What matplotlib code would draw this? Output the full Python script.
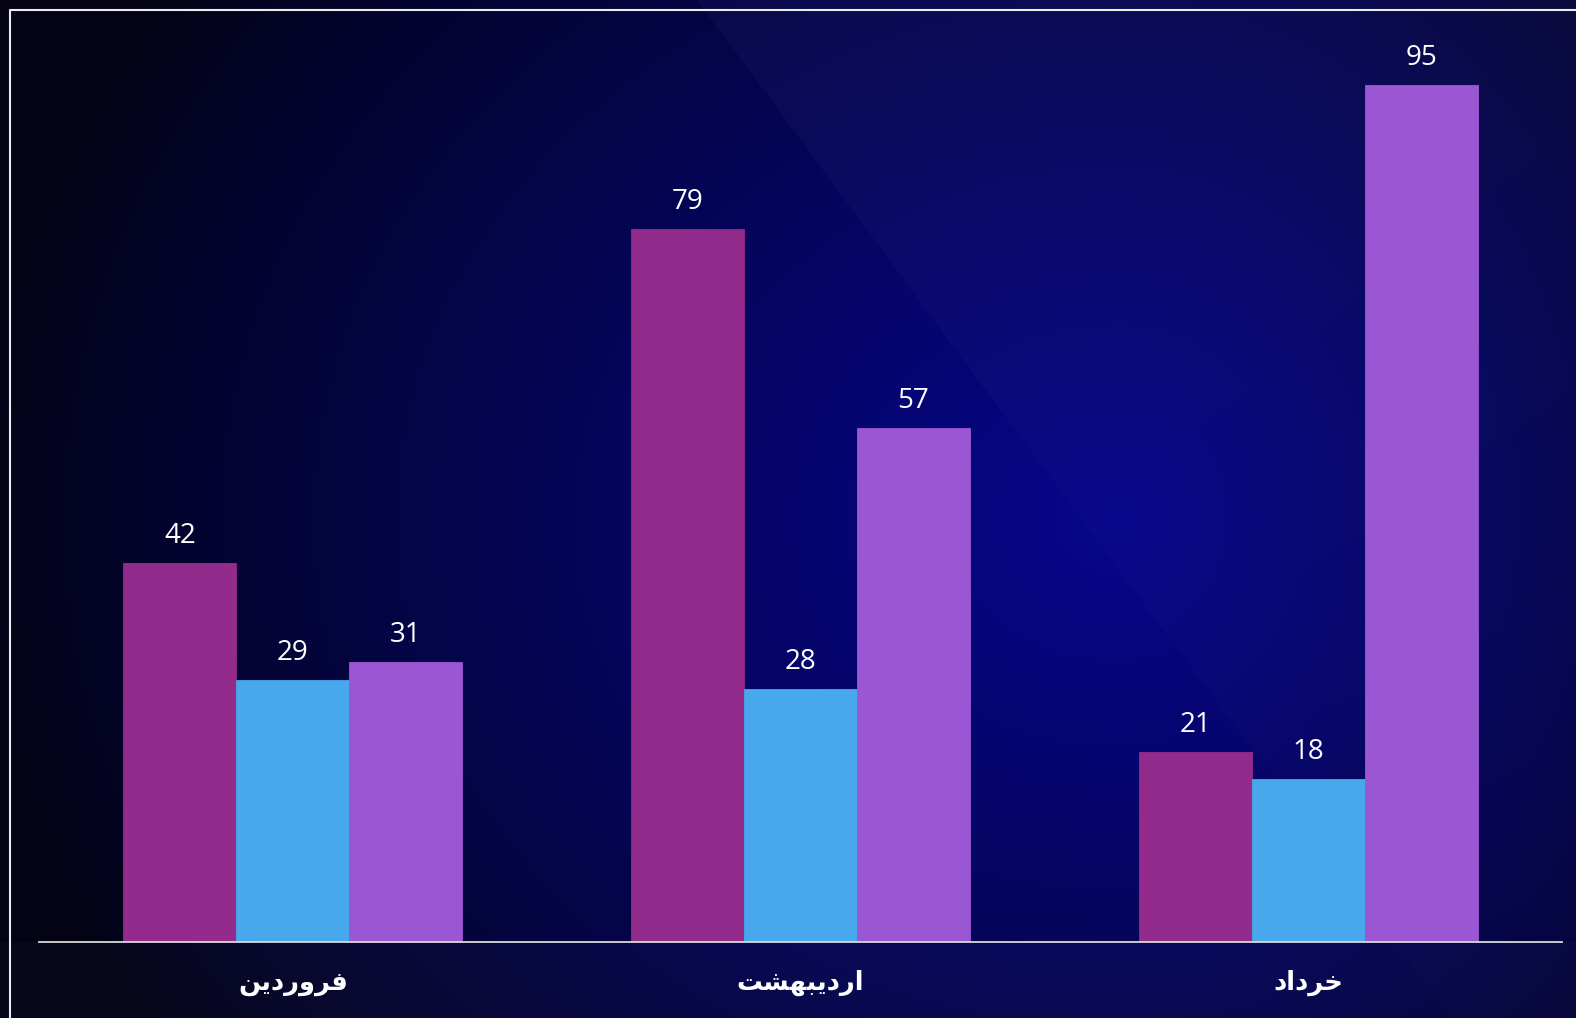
import matplotlib.pyplot as plt
import numpy as np

# data
months = ['فروردین', 'اردیبهشت', 'خرداد']
series_a = [42, 79, 21]
series_b = [29, 28, 18]
series_c = [31, 57, 95]
colors = ['#922B8C', '#47A8EC', '#9B57D3']

# simple persian shaping (matplotlib has no complex text layout)
FORMS = {
    'ف': ('\uFED1', '\uFED2', '\uFED3', '\uFED4'),
    'ر': ('\uFEAD', '\uFEAE', None, None),
    'و': ('\uFEED', '\uFEEE', None, None),
    'د': ('\uFEA9', '\uFEAA', None, None),
    'ی': ('\uFBFC', '\uFBFD', '\uFBFE', '\uFBFF'),
    'ن': ('\uFEE5', '\uFEE6', '\uFEE7', '\uFEE8'),
    'ا': ('\uFE8D', '\uFE8E', None, None),
    'ب': ('\uFE8F', '\uFE90', '\uFE91', '\uFE92'),
    'ه': ('\uFEE9', '\uFEEA', '\uFEEB', '\uFEEC'),
    'ش': ('\uFEB5', '\uFEB6', '\uFEB7', '\uFEB8'),
    'ت': ('\uFE95', '\uFE96', '\uFE97', '\uFE98'),
    'خ': ('\uFEA5', '\uFEA6', '\uFEA7', '\uFEA8'),
}


def shape(word):
    out = []
    n = len(word)
    for i, c in enumerate(word):
        f = FORMS[c]
        prev = i > 0 and FORMS[word[i - 1]][2] is not None
        nxt = i < n - 1 and f[2] is not None
        if prev and nxt:
            out.append(f[3])
        elif prev:
            out.append(f[1])
        elif nxt:
            out.append(f[2])
        else:
            out.append(f[0])
    return ''.join(reversed(out))


W, H = 1576, 1018
fig = plt.figure(figsize=(W / 100, H / 100), dpi=100)

# background
bg = fig.add_axes([0, 0, 1, 1])
yy, xx = np.mgrid[0:H, 0:W].astype(float)
cx, cy = 1120, 520
sx = np.where(xx < cx, 1150.0, 850.0)
d = np.sqrt(((xx - cx) / sx) ** 2 + ((yy - cy) / 950.0) ** 2)
t = np.clip(1 - d, 0, 1) ** 0.9
dark = np.array([0.012, 0.012, 0.085])
glow = np.array([0.025, 0.025, 0.55])
img = dark + (glow - dark) * t[..., None]
# lighter diagonal panel top right
mask = (xx > 697 + 0.74 * yy).astype(float)
a = mask * np.clip(0.075 * (1 - yy / 1200), 0, 1)
img = img * (1 - a[..., None]) + np.array([0.35, 0.35, 0.6]) * a[..., None]
# lighter band under the axis
band = (yy > 941).astype(float) * 0.045
img = img * (1 - band[..., None]) + np.array([0.4, 0.4, 0.5]) * band[..., None]
bg.imshow(np.clip(img, 0, 1), extent=[0, W, H, 0], aspect='auto', interpolation='bilinear')
bg.set_xlim(0, W)
bg.set_ylim(H, 0)
bg.axis('off')

# outer frame
fig.add_artist(plt.Line2D([10 / W, 10 / W, 1.0], [0.0, 1 - 10 / H, 1 - 10 / H],
                          color='#ececec', lw=1.5, transform=fig.transFigure))

ax = fig.add_axes([39 / W, 76.5 / H, 1523 / W, 901.4 / H])
ax.set_facecolor('none')
x = np.arange(len(months))
w = 0.2225
for k, vals in enumerate([series_a, series_b, series_c]):
    bars = ax.bar(x + (k - 1) * w, vals, w, color=colors[k], edgecolor=colors[k], lw=0.6, zorder=2)
    for b, v in zip(bars, vals):
        ax.annotate(str(v), (b.get_x() + b.get_width() / 2, v), xytext=(0, 14.5),
                    textcoords='offset points', ha='center', va='baseline',
                    color='white', fontsize=20, family=['Open Sans', 'DejaVu Sans'])

ax.set_xlim(-0.5, 2.5)
ax.set_ylim(0, 100)
for s in ['top', 'right', 'left']:
    ax.spines[s].set_visible(False)
ax.spines['bottom'].set_color('#d9d9d9')
ax.spines['bottom'].set_linewidth(1.3)
ax.set_yticks([])
ax.set_xticks([])
for i, m in enumerate(months):
    ax.text(i, -0.046, shape(m), transform=ax.get_xaxis_transform(), ha='center', va='center',
            color='white', fontsize=18.5, fontweight='bold', family='DejaVu Sans')

plt.savefig('out.png', dpi=100)
